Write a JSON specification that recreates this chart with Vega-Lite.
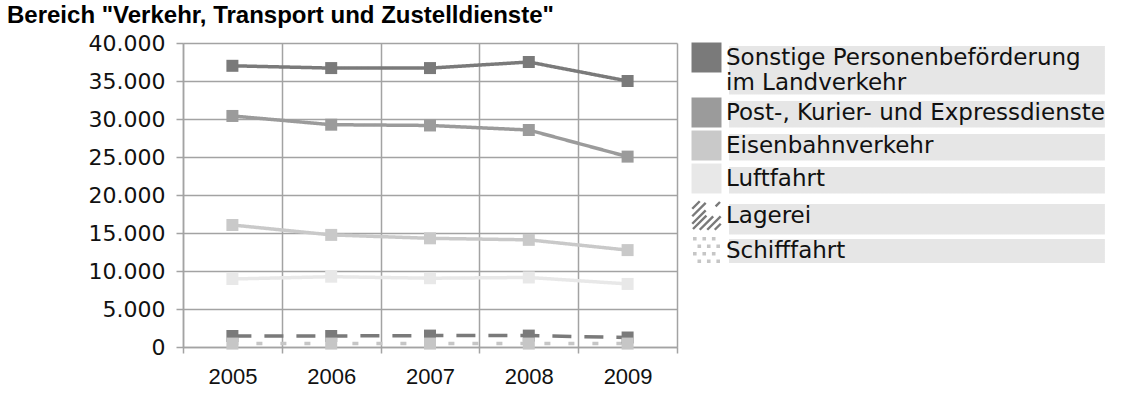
{
  "$schema": "https://vega.github.io/schema/vega-lite/v6.json",
  "width": 494,
  "height": 304,
  "autosize": {"type": "none"},
  "padding": {"left": 183, "top": 43, "right": 459, "bottom": 54},
  "background": "white",
  "title": {
    "text": "Bereich \"Verkehr, Transport und Zustelldienste\"",
    "anchor": "start",
    "frame": "group",
    "dx": -176,
    "dy": 29,
    "offset": 14,
    "baseline": "alphabetic",
    "font": "Liberation Sans",
    "fontSize": 24,
    "fontWeight": "bold",
    "color": "#000000"
  },
  "data": {
    "values": [
      {"Jahr": "2005", "Bereich": "Sonstige Personenbeförderung im Landverkehr", "Wert": 37000},
      {"Jahr": "2006", "Bereich": "Sonstige Personenbeförderung im Landverkehr", "Wert": 36700},
      {"Jahr": "2007", "Bereich": "Sonstige Personenbeförderung im Landverkehr", "Wert": 36700},
      {"Jahr": "2008", "Bereich": "Sonstige Personenbeförderung im Landverkehr", "Wert": 37500},
      {"Jahr": "2009", "Bereich": "Sonstige Personenbeförderung im Landverkehr", "Wert": 35000},
      {"Jahr": "2005", "Bereich": "Post-, Kurier- und Expressdienste", "Wert": 30400},
      {"Jahr": "2006", "Bereich": "Post-, Kurier- und Expressdienste", "Wert": 29250},
      {"Jahr": "2007", "Bereich": "Post-, Kurier- und Expressdienste", "Wert": 29150},
      {"Jahr": "2008", "Bereich": "Post-, Kurier- und Expressdienste", "Wert": 28550},
      {"Jahr": "2009", "Bereich": "Post-, Kurier- und Expressdienste", "Wert": 25050},
      {"Jahr": "2005", "Bereich": "Eisenbahnverkehr", "Wert": 16050},
      {"Jahr": "2006", "Bereich": "Eisenbahnverkehr", "Wert": 14750},
      {"Jahr": "2007", "Bereich": "Eisenbahnverkehr", "Wert": 14300},
      {"Jahr": "2008", "Bereich": "Eisenbahnverkehr", "Wert": 14100},
      {"Jahr": "2009", "Bereich": "Eisenbahnverkehr", "Wert": 12750},
      {"Jahr": "2005", "Bereich": "Luftfahrt", "Wert": 8950},
      {"Jahr": "2006", "Bereich": "Luftfahrt", "Wert": 9250},
      {"Jahr": "2007", "Bereich": "Luftfahrt", "Wert": 9050},
      {"Jahr": "2008", "Bereich": "Luftfahrt", "Wert": 9150},
      {"Jahr": "2009", "Bereich": "Luftfahrt", "Wert": 8300},
      {"Jahr": "2005", "Bereich": "Lagerei", "Wert": 1450},
      {"Jahr": "2006", "Bereich": "Lagerei", "Wert": 1450},
      {"Jahr": "2007", "Bereich": "Lagerei", "Wert": 1500},
      {"Jahr": "2008", "Bereich": "Lagerei", "Wert": 1500},
      {"Jahr": "2009", "Bereich": "Lagerei", "Wert": 1250},
      {"Jahr": "2005", "Bereich": "Schifffahrt", "Wert": 450},
      {"Jahr": "2006", "Bereich": "Schifffahrt", "Wert": 450},
      {"Jahr": "2007", "Bereich": "Schifffahrt", "Wert": 450},
      {"Jahr": "2008", "Bereich": "Schifffahrt", "Wert": 450},
      {"Jahr": "2009", "Bereich": "Schifffahrt", "Wert": 450}
    ]
  },
  "encoding": {
    "x": {
      "field": "Jahr",
      "type": "ordinal",
      "scale": {"type": "band", "paddingInner": 0, "paddingOuter": 0},
      "axis": {
        "title": null,
        "labelAngle": 0,
        "tickBand": "extent",
        "grid": true,
        "gridColor": "#a3a3a3",
        "gridWidth": 1.5,
        "domainColor": "#a3a3a3",
        "domainWidth": 1.5,
        "tickColor": "#a3a3a3",
        "tickWidth": 1.5,
        "tickSize": 6,
        "labelFont": "Liberation Sans",
        "labelFontSize": 22,
        "labelColor": "#111111",
        "labelPadding": 13
      }
    },
    "y": {
      "field": "Wert",
      "type": "quantitative",
      "scale": {"domain": [0, 40000], "nice": false, "zero": true},
      "axis": {
        "title": null,
        "values": [0, 5000, 10000, 15000, 20000, 25000, 30000, 35000, 40000],
        "labelExpr": "replace(format(datum.value, ','), ',', '.')",
        "grid": true,
        "gridColor": "#a3a3a3",
        "gridWidth": 1.5,
        "domainColor": "#a3a3a3",
        "domainWidth": 1.5,
        "tickColor": "#a3a3a3",
        "tickWidth": 1.5,
        "tickSize": 7,
        "labelFont": "DejaVu Sans",
        "labelFontSize": 22,
        "labelColor": "#111111",
        "labelPadding": 11
      }
    },
    "color": {
      "field": "Bereich",
      "type": "nominal",
      "scale": {
        "domain": ["Sonstige Personenbeförderung im Landverkehr", "Post-, Kurier- und Expressdienste", "Eisenbahnverkehr", "Luftfahrt", "Lagerei", "Schifffahrt"],
        "range": ["#7a7a7a", "#9b9b9b", "#c9c9c9", "#e8e8e8", "#7a7a7a", "#c6c6c6"]
      },
      "legend": {
        "orient": "none",
        "legendX": 512,
        "legendY": 3,
        "title": null,
        "symbolType": "square",
        "symbolSize": 900,
        "symbolStrokeWidth": 0,
        "symbolOpacity": 1,
        "labelFont": "DejaVu Sans",
        "labelFontSize": 23,
        "labelColor": "#111111",
        "labelOffset": 8,
        "labelLimit": 600,
        "labelLineHeight": 25,
        "rowPadding": 2,
        "labelExpr": "datum.label == 'Sonstige Personenbeförderung im Landverkehr' ? ['Sonstige Personenbeförderung', 'im Landverkehr'] : datum.label",
        "encode": {
          "symbols": {
            "update": {
              "shape": {"signal": "datum.value == 'Lagerei' ? 'M-0.95,-0.45L-0.45,-0.95M-0.95,0.05L0.05,-0.95M-0.95,0.55L0.55,-0.95M-0.9,0.9L0.9,-0.9M-0.45,0.95L0.95,-0.45M0.05,0.95L0.95,0.05M0.55,0.95L0.95,0.55' : datum.value == 'Schifffahrt' ? 'M-0.9,-0.9h0.24v0.24h-0.24zM-0.27,-0.9h0.24v0.24h-0.24zM0.36,-0.9h0.24v0.24h-0.24zM-0.6,-0.4h0.24v0.24h-0.24zM0.03,-0.4h0.24v0.24h-0.24zM0.66,-0.4h0.24v0.24h-0.24zM-0.9,0.1h0.24v0.24h-0.24zM-0.27,0.1h0.24v0.24h-0.24zM0.36,0.1h0.24v0.24h-0.24zM-0.6,0.6h0.24v0.24h-0.24zM0.03,0.6h0.24v0.24h-0.24zM0.66,0.6h0.24v0.24h-0.24z' : 'square'"},
              "fill": {"signal": "datum.value == 'Lagerei' ? 'transparent' : datum.value == 'Schifffahrt' ? '#bdbdbd' : datum.value == 'Luftfahrt' ? '#ebebeb' : scale('color', datum.value)"},
              "stroke": {"signal": "datum.value == 'Lagerei' ? '#808080' : null"},
              "strokeWidth": {"signal": "datum.value == 'Lagerei' ? 2.4 : 0"},
              "opacity": {"value": 1}
            }
          },
          "entries": {
            "update": {
              "fill": {"value": {"gradient": "linear", "x1": 0, "y1": 0, "x2": 1, "y2": 0, "stops": [{"offset": 0, "color": "#ffffff"}, {"offset": 0.082, "color": "#ffffff"}, {"offset": 0.0821, "color": "#e6e6e6"}, {"offset": 1, "color": "#e6e6e6"}]}}
            }
          }
        }
      }
    }
  },
  "layer": [
    {
      "mark": {"type": "line", "strokeWidth": 3.5},
      "encoding": {
        "strokeDash": {
          "field": "Bereich",
          "type": "nominal",
          "scale": {
            "domain": ["Sonstige Personenbeförderung im Landverkehr", "Post-, Kurier- und Expressdienste", "Eisenbahnverkehr", "Luftfahrt", "Lagerei", "Schifffahrt"],
            "range": [[1, 0], [1, 0], [1, 0], [1, 0], [19, 13], [6, 18]]
          },
          "legend": null
        }
      }
    },
    {
      "mark": {"type": "point", "shape": "square", "filled": true, "size": 144, "opacity": 1}
    }
  ],
  "config": {"view": {"stroke": null}}
}
